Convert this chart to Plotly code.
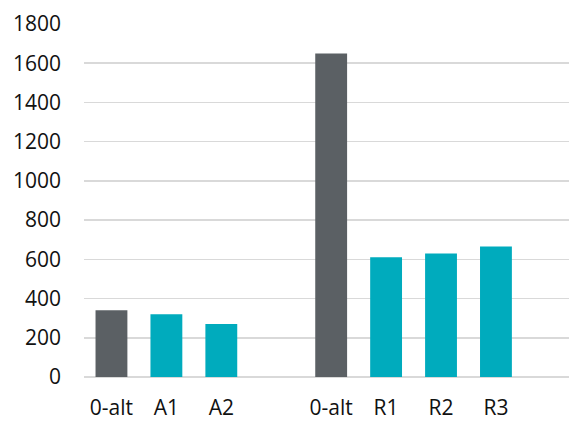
import plotly.graph_objects as go

categories = ["0-alt", "A1", "A2", "", "0-alt", "R1", "R2", "R3"]
values = [340, 320, 270, None, 1650, 610, 630, 665]
is_baseline = [True, False, False, False, True, False, False, False]
y_ticks = [0, 200, 400, 600, 800, 1000, 1200, 1400, 1600, 1800]

GRAY = "#5b6064"
TEAL = "#00abbd"

xs = list(range(len(categories)))
colors = [GRAY if b else TEAL for b in is_baseline]

fig = go.Figure()
fig.add_trace(go.Bar(
    x=xs, y=values, width=0.58,
    marker=dict(color=colors, line=dict(width=0)),
    showlegend=False, hoverinfo="skip",
))

fig.update_layout(
    width=569, height=421,
    margin=dict(l=84, r=0, t=24, b=44, autoexpand=False),
    paper_bgcolor="white", plot_bgcolor="white",
    font=dict(family="Open Sans", size=21, color="#111111"),
    bargap=0.42,
)
fig.update_xaxes(
    range=[-0.5, 8.33],
    tickmode="array",
    tickvals=[x for x, c in zip(xs, categories) if c],
    ticktext=[c for c in categories if c],
    showgrid=False, zeroline=False, showline=False,
    ticks="", ticklabelstandoff=16, automargin=False,
    tickfont=dict(size=21),
)
fig.update_yaxes(
    range=[0, 1800],
    tickmode="array", tickvals=y_ticks,
    showgrid=True, gridcolor="#d9d9d9", gridwidth=1.5,
    zeroline=True, zerolinecolor="#d9d9d9", zerolinewidth=2,
    showline=False, ticks="", ticklabelstandoff=22, automargin=False,
)

fig.write_html(
    "out.html",
    config={"displayModeBar": False, "staticPlot": True},
    post_script="document.body.style.margin='0';document.body.style.overflow='hidden';",
)
